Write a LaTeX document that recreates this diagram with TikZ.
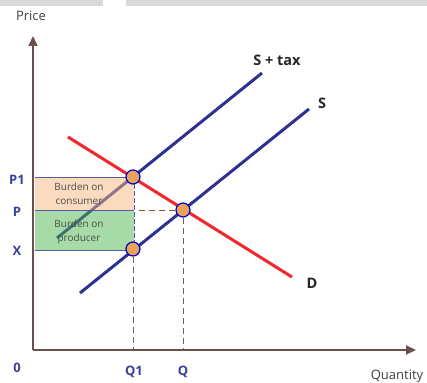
\documentclass[tikz,border=0pt]{standalone}
\usepackage{fontspec}
\setmainfont{Open Sans}
\usetikzlibrary{arrows.meta}
\definecolor{axisc}{HTML}{6E4F50}
\definecolor{supc}{HTML}{2E3192}
\definecolor{demc}{HTML}{F2262C}
\definecolor{labc}{HTML}{3A3F9A}
\definecolor{dashc}{HTML}{7A5C3E}
\definecolor{consc}{HTML}{F5B781}
\definecolor{prodc}{HTML}{4DB751}
\definecolor{ptc}{HTML}{E8A25A}
\definecolor{barc}{HTML}{D9D9D9}
\tikzset{
  axisline/.style={draw=axisc, line width=2pt, -{Triangle[length=10pt,width=9pt]}},
  curve/.style={line width=3pt},
  guide/.style={draw=dashc, line width=1pt, dash pattern=on 6pt off 4pt},
  pt/.style={circle, fill=ptc, draw=blue!80!black, line width=1.2pt, minimum size=14pt, inner sep=0pt},
  axlab/.style={text=labc, font=\bfseries\fontsize{13}{14}\selectfont},
  crvlab/.style={text=black!85, font=\bfseries\fontsize{14.5}{16}\selectfont},
  burden/.style={text=black!70, font=\fontsize{10}{14}\selectfont, align=center, inner sep=0pt},
  plainlab/.style={text=black!75, font=\fontsize{13}{14}\selectfont},
}
\begin{document}
\begin{tikzpicture}[x=1pt,y=-1pt]
\useasboundingbox (0,0) rectangle (427,382);
% top bars
\fill[barc] (0,0) rectangle (103,6);
\fill[barc] (126,0) rectangle (427,6);
% coordinates
\coordinate (o) at (33,350);
\coordinate (ytop) at (33,36);
\coordinate (xend) at (416,350);
\coordinate (stA) at (57,238);
\coordinate (stB) at (262,73);
\coordinate (sA) at (80,293);
\coordinate (sB) at (309,109);
\coordinate (dA) at (68,137);
\coordinate (dB) at (292,277);
% S + tax (under rectangles)
\draw[supc, curve] (stA) -- (stB);
% burden areas
\fill[consc, opacity=0.5] (35,177) rectangle (134,210);
\fill[prodc, opacity=0.5] (35,210) rectangle (134,250);
\draw[supc!80, line width=1pt] (35,177) -- (134,177);
\draw[supc!80, line width=1pt] (35,210) -- (134,210);
\draw[supc!80, line width=1pt] (35,250) -- (134,250);
\draw[supc!80, line width=1pt, dash pattern=on 5pt off 2pt] (134,177) -- (134,250);
\node[burden] (bc) at (79,194) {Burden on\\consumer};
\node[burden] (bp) at (79,232) {Burden on\\producer};
% other curves
\draw[supc, curve] (sA) -- (sB);
\draw[demc, curve] (dA) -- (dB);
% points
\node[pt] (p1) at (133,177) {};
\node[pt] (pe) at (183,210) {};
\node[pt] (px) at (133,249) {};
% axes
\draw[axisline] (o) -- (ytop);
\draw[axisline] (o) -- (xend);
% guides
\coordinate (q1) at (133,350);
\coordinate (q) at (183,350);
\coordinate (pl) at (138,210);
\draw[guide] (pe) -- (pl);
\draw[guide] (pe) -- (q);
\draw[guide] (px) -- (q1);
% labels
\node[plainlab] (price) at (31,16) {Price};
\node[plainlab] (quant) at (397,376) {Quantity};
\node[axlab] (l0) at (17,368) {0};
\node[axlab] (lq1) at (134,372) {Q1};
\node[axlab] (lq) at (183,372) {Q};
\node[axlab] (lp1) at (17,180) {P1};
\node[axlab] (lp) at (17,212) {P};
\node[axlab] (lx) at (17,251) {X};
\node[crvlab] (lst) at (277,60) {S + tax};
\node[crvlab] (ls) at (322,103) {S};
\node[crvlab] (ld) at (312,283) {D};
\end{tikzpicture}
\end{document}
